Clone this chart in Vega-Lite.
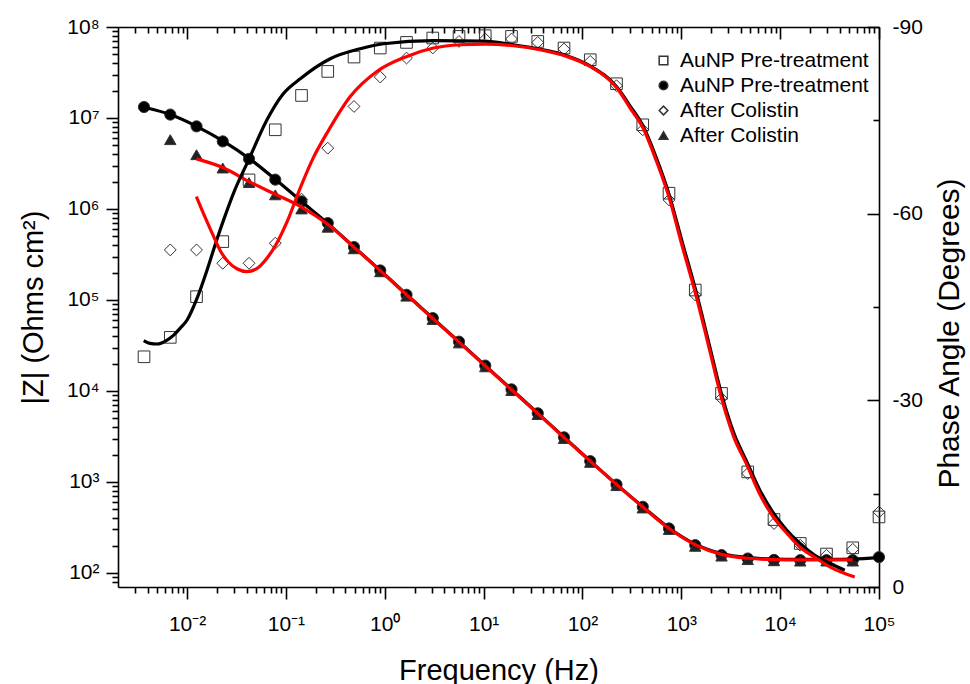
{
  "$schema": "https://vega.github.io/schema/vega-lite/v6.json",
  "width": 761,
  "height": 560,
  "autosize": "none",
  "padding": {"left": 118, "top": 27, "right": 91, "bottom": 97},
  "background": "white",
  "datasets": {
    "zpts": [
      {"f": 0.003667, "z": 13200000, "s": "ci"},
      {"f": 0.00676, "z": 10900000, "s": "ci"},
      {"f": 0.01246, "z": 8090000, "s": "ci"},
      {"f": 0.02296, "z": 5530000, "s": "ci"},
      {"f": 0.04233, "z": 3550000, "s": "ci"},
      {"f": 0.07801, "z": 2100000, "s": "ci"},
      {"f": 0.1438, "z": 1210000, "s": "ci"},
      {"f": 0.265, "z": 700000, "s": "ci"},
      {"f": 0.4884, "z": 381000, "s": "ci"},
      {"f": 0.9001, "z": 211000, "s": "ci"},
      {"f": 1.659, "z": 114000, "s": "ci"},
      {"f": 3.059, "z": 63100, "s": "ci"},
      {"f": 5.637, "z": 34800, "s": "ci"},
      {"f": 10.39, "z": 19000, "s": "ci"},
      {"f": 19.15, "z": 10400, "s": "ci"},
      {"f": 35.3, "z": 5680, "s": "ci"},
      {"f": 65.06, "z": 3090, "s": "ci"},
      {"f": 119.9, "z": 1690, "s": "ci"},
      {"f": 221.0, "z": 935, "s": "ci"},
      {"f": 407.4, "z": 533, "s": "ci"},
      {"f": 750.8, "z": 308, "s": "ci"},
      {"f": 1384, "z": 202, "s": "ci"},
      {"f": 2551, "z": 157, "s": "ci"},
      {"f": 4701, "z": 144, "s": "ci"},
      {"f": 8666, "z": 139, "s": "ci"},
      {"f": 15970, "z": 138, "s": "ci"},
      {"f": 29440, "z": 138, "s": "ci"},
      {"f": 54270, "z": 138, "s": "ci"},
      {"f": 100000, "z": 149, "s": "ci"},
      {"f": 0.00676, "z": 5780000, "s": "tr"},
      {"f": 0.01246, "z": 3950000, "s": "tr"},
      {"f": 0.02296, "z": 2820000, "s": "tr"},
      {"f": 0.04233, "z": 1950000, "s": "tr"},
      {"f": 0.07801, "z": 1430000, "s": "tr"},
      {"f": 0.1438, "z": 1000000, "s": "tr"},
      {"f": 0.265, "z": 630000, "s": "tr"},
      {"f": 0.4884, "z": 365000, "s": "tr"},
      {"f": 0.9001, "z": 204000, "s": "tr"},
      {"f": 1.659, "z": 110000, "s": "tr"},
      {"f": 3.059, "z": 61000, "s": "tr"},
      {"f": 5.637, "z": 33700, "s": "tr"},
      {"f": 10.39, "z": 18400, "s": "tr"},
      {"f": 19.15, "z": 10100, "s": "tr"},
      {"f": 35.3, "z": 5500, "s": "tr"},
      {"f": 65.06, "z": 3000, "s": "tr"},
      {"f": 119.9, "z": 1640, "s": "tr"},
      {"f": 221.0, "z": 910, "s": "tr"},
      {"f": 407.4, "z": 517, "s": "tr"},
      {"f": 750.8, "z": 300, "s": "tr"},
      {"f": 1384, "z": 196, "s": "tr"},
      {"f": 2551, "z": 153, "s": "tr"},
      {"f": 4701, "z": 140, "s": "tr"},
      {"f": 8666, "z": 136, "s": "tr"},
      {"f": 15970, "z": 135, "s": "tr"},
      {"f": 29440, "z": 135, "s": "tr"},
      {"f": 54270, "z": 135, "s": "tr"}
    ],
    "ppts": [
      {"f": 0.003667, "p": -37.0, "s": "sq"},
      {"f": 0.00676, "p": -40.12, "s": "sq"},
      {"f": 0.01246, "p": -46.66, "s": "sq"},
      {"f": 0.02296, "p": -55.51, "s": "sq"},
      {"f": 0.04233, "p": -65.43, "s": "sq"},
      {"f": 0.07801, "p": -73.48, "s": "sq"},
      {"f": 0.1438, "p": -79.0, "s": "sq"},
      {"f": 0.265, "p": -82.86, "s": "sq"},
      {"f": 0.4884, "p": -85.17, "s": "sq"},
      {"f": 0.9001, "p": -86.62, "s": "sq"},
      {"f": 1.659, "p": -87.52, "s": "sq"},
      {"f": 3.059, "p": -88.23, "s": "sq"},
      {"f": 5.637, "p": -88.49, "s": "sq"},
      {"f": 10.39, "p": -88.6, "s": "sq"},
      {"f": 19.15, "p": -88.49, "s": "sq"},
      {"f": 35.3, "p": -87.68, "s": "sq"},
      {"f": 65.06, "p": -86.62, "s": "sq"},
      {"f": 119.9, "p": -84.74, "s": "sq"},
      {"f": 221.0, "p": -80.88, "s": "sq"},
      {"f": 407.4, "p": -74.28, "s": "sq"},
      {"f": 750.8, "p": -63.29, "s": "sq"},
      {"f": 1384, "p": -47.73, "s": "sq"},
      {"f": 2551, "p": -31.11, "s": "sq"},
      {"f": 4701, "p": -18.5, "s": "sq"},
      {"f": 8666, "p": -10.84, "s": "sq"},
      {"f": 15970, "p": -7.0, "s": "sq"},
      {"f": 29440, "p": -5.3, "s": "sq"},
      {"f": 54270, "p": -6.3, "s": "sq"},
      {"f": 100000, "p": -11.26, "s": "sq"},
      {"f": 0.00676, "p": -54.17, "s": "di"},
      {"f": 0.01246, "p": -54.17, "s": "di"},
      {"f": 0.02296, "p": -52.03, "s": "di"},
      {"f": 0.04233, "p": -52.03, "s": "di"},
      {"f": 0.07801, "p": -55.25, "s": "di"},
      {"f": 0.1438, "p": -62.33, "s": "di"},
      {"f": 0.265, "p": -70.53, "s": "di"},
      {"f": 0.4884, "p": -77.23, "s": "di"},
      {"f": 0.9001, "p": -81.96, "s": "di"},
      {"f": 1.659, "p": -85.01, "s": "di"},
      {"f": 3.059, "p": -86.62, "s": "di"},
      {"f": 5.637, "p": -87.68, "s": "di"},
      {"f": 10.39, "p": -88.07, "s": "di"},
      {"f": 19.15, "p": -88.07, "s": "di"},
      {"f": 35.3, "p": -87.52, "s": "di"},
      {"f": 65.06, "p": -86.46, "s": "di"},
      {"f": 119.9, "p": -84.47, "s": "di"},
      {"f": 221.0, "p": -80.56, "s": "di"},
      {"f": 407.4, "p": -73.48, "s": "di"},
      {"f": 750.8, "p": -62.21, "s": "di"},
      {"f": 1384, "p": -46.93, "s": "di"},
      {"f": 2551, "p": -30.31, "s": "di"},
      {"f": 4701, "p": -18.24, "s": "di"},
      {"f": 8666, "p": -10.2, "s": "di"},
      {"f": 15970, "p": -6.71, "s": "di"},
      {"f": 29440, "p": -5.1, "s": "di"},
      {"f": 54270, "p": -6.06, "s": "di"},
      {"f": 100000, "p": -12.06, "s": "di"}
    ],
    "zfit": [
      {"f": 0.003667, "z": 13100000, "m": "pre"},
      {"f": 0.00676, "z": 10900000, "m": "pre"},
      {"f": 0.01246, "z": 8100000, "m": "pre"},
      {"f": 0.02296, "z": 5600000, "m": "pre"},
      {"f": 0.04233, "z": 3600000, "m": "pre"},
      {"f": 0.07801, "z": 2120000, "m": "pre"},
      {"f": 0.1438, "z": 1210000, "m": "pre"},
      {"f": 0.265, "z": 695000, "m": "pre"},
      {"f": 0.4884, "z": 383000, "m": "pre"},
      {"f": 0.9001, "z": 211000, "m": "pre"},
      {"f": 1.659, "z": 115000, "m": "pre"},
      {"f": 3.059, "z": 63000, "m": "pre"},
      {"f": 5.637, "z": 34700, "m": "pre"},
      {"f": 10.39, "z": 19000, "m": "pre"},
      {"f": 19.15, "z": 10400, "m": "pre"},
      {"f": 35.3, "z": 5700, "m": "pre"},
      {"f": 65.06, "z": 3100, "m": "pre"},
      {"f": 119.9, "z": 1700, "m": "pre"},
      {"f": 221.0, "z": 940, "m": "pre"},
      {"f": 407.4, "z": 535, "m": "pre"},
      {"f": 750.8, "z": 312, "m": "pre"},
      {"f": 1384, "z": 207, "m": "pre"},
      {"f": 2551, "z": 163, "m": "pre"},
      {"f": 4701, "z": 147, "m": "pre"},
      {"f": 8666, "z": 142, "m": "pre"},
      {"f": 15970, "z": 141, "m": "pre"},
      {"f": 29440, "z": 141, "m": "pre"},
      {"f": 54270, "z": 142, "m": "pre"},
      {"f": 100000, "z": 148, "m": "pre"},
      {"f": 0.01246, "z": 3550000, "m": "col"},
      {"f": 0.02296, "z": 2850000, "m": "col"},
      {"f": 0.04233, "z": 2000000, "m": "col"},
      {"f": 0.07801, "z": 1450000, "m": "col"},
      {"f": 0.1438, "z": 1050000, "m": "col"},
      {"f": 0.265, "z": 680000, "m": "col"},
      {"f": 0.4884, "z": 380000, "m": "col"},
      {"f": 0.9001, "z": 210000, "m": "col"},
      {"f": 1.659, "z": 114000, "m": "col"},
      {"f": 3.059, "z": 62500, "m": "col"},
      {"f": 5.637, "z": 34400, "m": "col"},
      {"f": 10.39, "z": 18800, "m": "col"},
      {"f": 19.15, "z": 10300, "m": "col"},
      {"f": 35.3, "z": 5650, "m": "col"},
      {"f": 65.06, "z": 3080, "m": "col"},
      {"f": 119.9, "z": 1690, "m": "col"},
      {"f": 221.0, "z": 935, "m": "col"},
      {"f": 407.4, "z": 530, "m": "col"},
      {"f": 750.8, "z": 308, "m": "col"},
      {"f": 1384, "z": 204, "m": "col"},
      {"f": 2551, "z": 160, "m": "col"},
      {"f": 4701, "z": 145, "m": "col"},
      {"f": 8666, "z": 140, "m": "col"},
      {"f": 15970, "z": 139, "m": "col"},
      {"f": 29440, "z": 139, "m": "col"},
      {"f": 54270, "z": 139, "m": "col"}
    ],
    "pfit": [
      {"f": 0.003641, "p": -39.58, "m": "pre"},
      {"f": 0.004188, "p": -39.16, "m": "pre"},
      {"f": 0.004974, "p": -39.05, "m": "pre"},
      {"f": 0.006035, "p": -39.53, "m": "pre"},
      {"f": 0.00732, "p": -40.49, "m": "pre"},
      {"f": 0.008553, "p": -41.62, "m": "pre"},
      {"f": 0.01, "p": -42.91, "m": "pre"},
      {"f": 0.0128, "p": -46.66, "m": "pre"},
      {"f": 0.01593, "p": -50.95, "m": "pre"},
      {"f": 0.0201, "p": -55.94, "m": "pre"},
      {"f": 0.02382, "p": -59.32, "m": "pre"},
      {"f": 0.02958, "p": -63.34, "m": "pre"},
      {"f": 0.04195, "p": -68.65, "m": "pre"},
      {"f": 0.06435, "p": -75.09, "m": "pre"},
      {"f": 0.09404, "p": -79.27, "m": "pre"},
      {"f": 0.1397, "p": -81.68, "m": "pre"},
      {"f": 0.2807, "p": -84.9, "m": "pre"},
      {"f": 0.5644, "p": -86.51, "m": "pre"},
      {"f": 0.9707, "p": -87.31, "m": "pre"},
      {"f": 3.108, "p": -87.8, "m": "pre"},
      {"f": 9.95, "p": -87.72, "m": "pre"},
      {"f": 20.0, "p": -87.15, "m": "pre"},
      {"f": 37.23, "p": -86.43, "m": "pre"},
      {"f": 69.29, "p": -85.38, "m": "pre"},
      {"f": 119.2, "p": -83.77, "m": "pre"},
      {"f": 221.9, "p": -80.39, "m": "pre"},
      {"f": 302.4, "p": -77.34, "m": "pre"},
      {"f": 409.2, "p": -74.12, "m": "pre"},
      {"f": 553.7, "p": -69.13, "m": "pre"},
      {"f": 754.6, "p": -63.02, "m": "pre"},
      {"f": 1014, "p": -55.62, "m": "pre"},
      {"f": 1405, "p": -47.57, "m": "pre"},
      {"f": 1901, "p": -39.21, "m": "pre"},
      {"f": 2555, "p": -31.0, "m": "pre"},
      {"f": 3401, "p": -24.73, "m": "pre"},
      {"f": 4571, "p": -20.22, "m": "pre"},
      {"f": 6230, "p": -15.56, "m": "pre"},
      {"f": 8431, "p": -12.02, "m": "pre"},
      {"f": 11680, "p": -9.12, "m": "pre"},
      {"f": 15800, "p": -7.03, "m": "pre"},
      {"f": 22410, "p": -5.1, "m": "pre"},
      {"f": 31770, "p": -3.81, "m": "pre"},
      {"f": 45030, "p": -2.69, "m": "pre"},
      {"f": 0.01242, "p": -62.75, "m": "col"},
      {"f": 0.01531, "p": -59.32, "m": "col"},
      {"f": 0.01845, "p": -56.42, "m": "col"},
      {"f": 0.02173, "p": -54.01, "m": "col"},
      {"f": 0.02614, "p": -52.24, "m": "col"},
      {"f": 0.03228, "p": -51.11, "m": "col"},
      {"f": 0.04036, "p": -50.68, "m": "col"},
      {"f": 0.05012, "p": -51.11, "m": "col"},
      {"f": 0.06339, "p": -52.72, "m": "col"},
      {"f": 0.07998, "p": -55.13, "m": "col"},
      {"f": 0.1025, "p": -58.67, "m": "col"},
      {"f": 0.1397, "p": -64.15, "m": "col"},
      {"f": 0.189, "p": -68.97, "m": "col"},
      {"f": 0.26, "p": -72.95, "m": "col"},
      {"f": 0.4472, "p": -78.83, "m": "col"},
      {"f": 0.8324, "p": -82.86, "m": "col"},
      {"f": 1.673, "p": -85.27, "m": "col"},
      {"f": 3.108, "p": -86.62, "m": "col"},
      {"f": 5.785, "p": -87.15, "m": "col"},
      {"f": 10.35, "p": -87.26, "m": "col"},
      {"f": 20.0, "p": -86.99, "m": "col"},
      {"f": 37.23, "p": -86.35, "m": "col"},
      {"f": 69.29, "p": -85.27, "m": "col"},
      {"f": 119.2, "p": -83.66, "m": "col"},
      {"f": 221.9, "p": -80.23, "m": "col"},
      {"f": 302.4, "p": -77.02, "m": "col"},
      {"f": 409.2, "p": -73.8, "m": "col"},
      {"f": 553.7, "p": -68.65, "m": "col"},
      {"f": 754.6, "p": -62.54, "m": "col"},
      {"f": 1014, "p": -54.97, "m": "col"},
      {"f": 1405, "p": -46.93, "m": "col"},
      {"f": 1901, "p": -38.56, "m": "col"},
      {"f": 2555, "p": -30.31, "m": "col"},
      {"f": 3401, "p": -24.08, "m": "col"},
      {"f": 4571, "p": -19.74, "m": "col"},
      {"f": 6230, "p": -14.91, "m": "col"},
      {"f": 8431, "p": -11.37, "m": "col"},
      {"f": 11680, "p": -8.64, "m": "col"},
      {"f": 15800, "p": -6.43, "m": "col"},
      {"f": 22410, "p": -4.78, "m": "col"},
      {"f": 31770, "p": -3.25, "m": "col"},
      {"f": 56840, "p": -1.61, "m": "col"}
    ]
  },
  "layer": [
    {
      "data": {"name": "zpts"},
      "mark": {"type": "point", "filled": true, "stroke": "#333333", "strokeWidth": 1, "opacity": 1},
      "encoding": {
        "x": {"field": "f", "type": "quantitative",
          "scale": {"type": "log", "domain": [0.002, 100000], "nice": false},
          "axis": {"orient": "bottom", "values": [0.01, 0.1, 1, 10, 100, 1000, 10000, 100000], "tickSize": 12, "labelPadding": 14,
            "labelExpr": "'10' + (datum.value < 1 ? '⁻' : '') + ['⁰','¹','²','³','⁴','⁵','⁶','⁷','⁸','⁹'][round(abs(log(datum.value)/LN10))]",
            "labelOverlap": false, "labelBound": false, "labelFlush": false,
            "title": "Frequency (Hz)", "titleFontSize": 29, "titlePadding": 22}},
        "y": {"field": "z", "type": "quantitative",
          "scale": {"type": "log", "domain": [70, 100000000], "nice": false},
          "axis": {"orient": "left", "values": [100, 1000, 10000, 100000, 1000000, 10000000, 100000000], "tickSize": 12, "labelPadding": 7,
            "labelExpr": "'10' + ['⁰','¹','²','³','⁴','⁵','⁶','⁷','⁸','⁹'][round(log(datum.value)/LN10)]",
            "labelOverlap": false, "labelBound": false, "labelFlush": false,
            "title": "|Z| (Ohms cm²)", "titleFontSize": 29, "titlePadding": 18}},
        "shape": {"field": "s", "type": "nominal",
          "scale": {"domain": ["sq", "ci", "di", "tr"], "range": ["square", "circle", "diamond", "triangle-up"]},
          "legend": {"title": null, "orient": "none", "legendX": 535, "legendY": 23,
            "encode": {"symbols": {"update": {"stroke": {"value": "#333333"}, "strokeWidth": {"value": 1}}}},
            "labelExpr": "(datum.value == 'sq' || datum.value == 'ci') ? 'AuNP Pre-treatment' : 'After Colistin'"}},
        "fill": {"field": "s", "type": "nominal",
          "scale": {"domain": ["sq", "ci", "di", "tr"], "range": ["transparent", "black", "transparent", "#222222"]},
          "legend": {"title": null, "orient": "none", "legendX": 535, "legendY": 23,
            "encode": {"symbols": {"update": {"stroke": {"value": "#333333"}, "strokeWidth": {"value": 1}}}},
            "labelExpr": "(datum.value == 'sq' || datum.value == 'ci') ? 'AuNP Pre-treatment' : 'After Colistin'"}},
        "size": {"field": "s", "type": "ordinal",
          "scale": {"domain": ["ci", "tr", "sq", "di"], "range": [125, 140, 100, 215]},
          "legend": null}
      }
    },
    {
      "data": {"name": "ppts"},
      "mark": {"type": "point", "filled": true, "stroke": "#333333", "strokeWidth": 1, "opacity": 1},
      "encoding": {
        "x": {"field": "f", "type": "quantitative",
          "scale": {"type": "log", "domain": [0.002, 100000], "nice": false},
          "axis": {"orient": "top", "values": [0.01, 0.1, 1, 10, 100, 1000, 10000, 100000], "tickSize": -12, "labels": false, "title": null}},
        "y": {"field": "p", "type": "quantitative",
          "scale": {"type": "linear", "domain": [0, -90], "nice": false, "zero": false},
          "axis": {"orient": "right", "values": [0, -30, -60, -90], "tickSize": -12, "labelPadding": 25,
            "labelExpr": "datum.value == 0 ? '0' : '-' + abs(datum.value)",
            "labelOverlap": false, "labelBound": false, "labelFlush": false,
            "title": "Phase Angle (Degrees)", "titleFontSize": 30, "titleAngle": -90, "titleBaseline": "top", "titleX": 55, "titleY": 306}},
        "shape": {"field": "s", "type": "nominal",
          "legend": {"title": null, "orient": "none", "legendX": 535, "legendY": 23,
            "encode": {"symbols": {"update": {"stroke": {"value": "#333333"}, "strokeWidth": {"value": 1}}}},
            "labelExpr": "(datum.value == 'sq' || datum.value == 'ci') ? 'AuNP Pre-treatment' : 'After Colistin'"}},
        "fill": {"field": "s", "type": "nominal",
          "legend": {"title": null, "orient": "none", "legendX": 535, "legendY": 23,
            "encode": {"symbols": {"update": {"stroke": {"value": "#333333"}, "strokeWidth": {"value": 1}}}},
            "labelExpr": "(datum.value == 'sq' || datum.value == 'ci') ? 'AuNP Pre-treatment' : 'After Colistin'"}},
        "size": {"field": "s", "type": "ordinal", "legend": null}
      }
    },
    {
      "data": {"name": "zfit"},
      "mark": {"type": "line", "strokeWidth": 3.2, "interpolate": "monotone"},
      "encoding": {
        "x": {"field": "f", "type": "quantitative",
          "scale": {"type": "log", "domain": [0.002, 100000], "nice": false},
          "axis": {"orient": "bottom", "values": [0.003, 0.004, 0.005, 0.006, 0.007, 0.008, 0.009, 0.02, 0.03, 0.04, 0.05, 0.06, 0.07, 0.08, 0.09, 0.2, 0.3, 0.4, 0.5, 0.6, 0.7, 0.8, 0.9, 2, 3, 4, 5, 6, 7, 8, 9, 20, 30, 40, 50, 60, 70, 80, 90, 200, 300, 400, 500, 600, 700, 800, 900, 2000, 3000, 4000, 5000, 6000, 7000, 8000, 9000, 20000, 30000, 40000, 50000, 60000, 70000, 80000, 90000], "tickSize": 6, "labels": false, "domain": false, "title": null}},
        "y": {"field": "z", "type": "quantitative",
          "scale": {"type": "log", "domain": [70, 100000000], "nice": false},
          "axis": {"orient": "left", "values": [80, 90, 200, 300, 400, 500, 600, 700, 800, 900, 2000, 3000, 4000, 5000, 6000, 7000, 8000, 9000, 20000, 30000, 40000, 50000, 60000, 70000, 80000, 90000, 200000, 300000, 400000, 500000, 600000, 700000, 800000, 900000, 2000000, 3000000, 4000000, 5000000, 6000000, 7000000, 8000000, 9000000, 20000000, 30000000, 40000000, 50000000, 60000000, 70000000, 80000000, 90000000], "tickSize": 6, "labels": false, "domain": false, "title": null}},
        "stroke": {"field": "m", "type": "nominal", "scale": {"domain": ["pre", "col"], "range": ["black", "#ff0000"]}, "legend": null}
      }
    },
    {
      "data": {"name": "pfit"},
      "mark": {"type": "line", "strokeWidth": 3.2, "interpolate": "monotone"},
      "encoding": {
        "x": {"field": "f", "type": "quantitative",
          "scale": {"type": "log", "domain": [0.002, 100000], "nice": false},
          "axis": {"orient": "top", "values": [0.003, 0.004, 0.005, 0.006, 0.007, 0.008, 0.009, 0.02, 0.03, 0.04, 0.05, 0.06, 0.07, 0.08, 0.09, 0.2, 0.3, 0.4, 0.5, 0.6, 0.7, 0.8, 0.9, 2, 3, 4, 5, 6, 7, 8, 9, 20, 30, 40, 50, 60, 70, 80, 90, 200, 300, 400, 500, 600, 700, 800, 900, 2000, 3000, 4000, 5000, 6000, 7000, 8000, 9000, 20000, 30000, 40000, 50000, 60000, 70000, 80000, 90000], "tickSize": -6, "labels": false, "domain": false, "title": null}},
        "y": {"field": "p", "type": "quantitative",
          "scale": {"type": "linear", "domain": [0, -90], "nice": false, "zero": false},
          "axis": {"orient": "right", "values": [-15, -45, -75], "tickSize": -6, "labels": false, "domain": false, "title": null}},
        "stroke": {"field": "m", "type": "nominal", "legend": null}
      }
    }
  ],
  "resolve": {
    "scale": {"y": "independent"},
    "axis": {"x": "independent", "y": "independent"}
  },
  "config": {
    "font": "Liberation Sans",
    "view": {"stroke": null},
    "axis": {"grid": false, "domainColor": "black", "domainWidth": 1.6, "tickColor": "black", "tickWidth": 1.6,
      "labelColor": "black", "labelFontSize": 21, "labelFont": "Liberation Sans",
      "titleFont": "Liberation Sans", "titleFontWeight": "normal", "titleColor": "black"},
    "legend": {"labelFont": "Liberation Sans", "labelFontSize": 21, "labelColor": "black",
      "symbolSize": 75, "labelOffset": 6, "rowPadding": 3, "padding": 0, "labelLimit": 400}
  }
}
